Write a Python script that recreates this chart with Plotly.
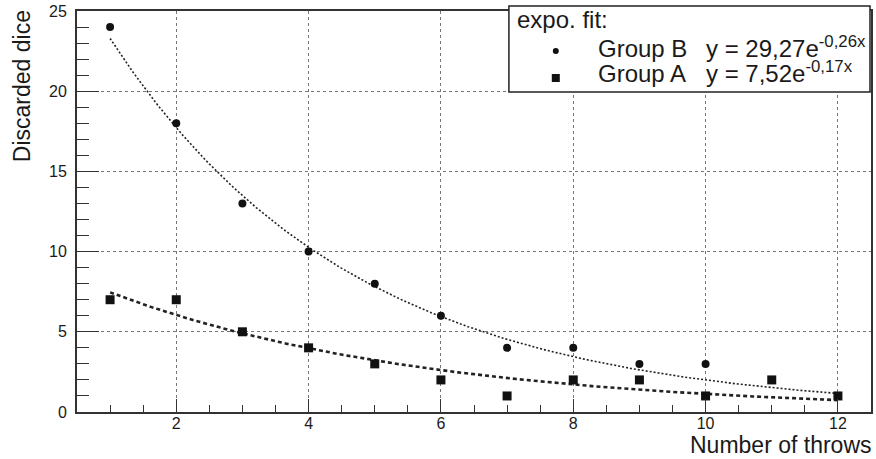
import numpy as np
import plotly.graph_objects as go

# ---- data ----
throws_b = [1, 2, 3, 4, 5, 6, 7, 8, 9, 10, 12]
dice_b = [24, 18, 13, 10, 8, 6, 4, 4, 3, 3, 1]
throws_a = [1, 2, 3, 4, 5, 6, 7, 8, 9, 10, 11, 12]
dice_a = [7, 7, 5, 4, 3, 2, 1, 2, 2, 1, 2, 1]

# fit curves as drawn in the picture (amplitude, decay)
fit_b_drawn = (30.6, 0.273)
fit_a_drawn = (9.2, 0.21)
fit_range = (1, 12)

legend_title = "expo. fit:"
legend_names = ["Group B", "Group A"]
legend_formulas = ["y = 29,27e<sup>-0,26x</sup>", "y = 7,52e<sup>-0,17x</sup>"]

x_title = "Number of throws"
y_title = "Discarded dice"

# ---- layout geometry (pixels) ----
W, H = 876, 459
L, R, T, B = 77, 873, 11, 412


def px(xp):
    return (xp - L) / (R - L)


def py(yp):
    return (B - yp) / (B - T)


FONT = "Liberation Sans, Arial, Helvetica, sans-serif"
INK = "#1a1a1a"

xf = np.linspace(fit_range[0], fit_range[1], 300)

fig = go.Figure()
fig.add_trace(go.Scatter(x=xf, y=fit_b_drawn[0] * np.exp(-fit_b_drawn[1] * xf), mode="lines",
                         line=dict(color="#222", width=1.6, dash="2px,2px"),
                         showlegend=False, hoverinfo="skip"))
fig.add_trace(go.Scatter(x=xf, y=fit_a_drawn[0] * np.exp(-fit_a_drawn[1] * xf), mode="lines",
                         line=dict(color="#222", width=2.6, dash="4px,3px"),
                         showlegend=False, hoverinfo="skip"))
fig.add_trace(go.Scatter(x=throws_b, y=dice_b, mode="markers", name=legend_names[0],
                         marker=dict(symbol="circle", size=8, color="#111"),
                         showlegend=False))
fig.add_trace(go.Scatter(x=throws_a, y=dice_a, mode="markers", name=legend_names[1],
                         marker=dict(symbol="square", size=9, color="#111"),
                         showlegend=False))

axis_common = dict(
    showline=True, linecolor="#333", linewidth=1.8, mirror=True,
    showgrid=True, gridcolor="#777", gridwidth=1, griddash="dot",
    zeroline=False, ticks="inside", tickcolor="#333", tickwidth=1.3,
    tickfont=dict(family=FONT, size=16, color=INK),
)

fig.update_xaxes(range=[0.5, 12.5], tick0=0, dtick=2, ticklen=13, ticklabelstandoff=-4,
                 minor=dict(dtick=0.5, ticks="inside", ticklen=7, tickcolor="#333",
                            showgrid=False),
                 **axis_common)
fig.update_yaxes(range=[0, 25], tick0=0, dtick=5, ticklen=22, ticklabelstandoff=5,
                 minor=dict(dtick=1, ticks="inside", ticklen=12, tickcolor="#333",
                            showgrid=False),
                 **axis_common)

shapes = [
    dict(type="rect", xref="paper", yref="paper",
         x0=px(510), x1=px(872), y0=py(92), y1=py(6),
         fillcolor="white", line=dict(color="#222", width=1.5), layer="above"),
    dict(type="circle", xref="paper", yref="paper", xsizemode="pixel", ysizemode="pixel",
         xanchor=px(557), yanchor=py(51), x0=-3, x1=3, y0=-3, y1=3,
         fillcolor="#111", line=dict(width=0), layer="above"),
    dict(type="rect", xref="paper", yref="paper", xsizemode="pixel", ysizemode="pixel",
         xanchor=px(557), yanchor=py(78), x0=-4, x1=4, y0=-4, y1=4,
         fillcolor="#111", line=dict(width=0), layer="above"),
]

leg_font = dict(family=FONT, size=24, color=INK)
ttl_font = dict(family=FONT, size=23, color=INK)
D = 5  # descent offset from baseline to text box bottom (px)
annotations = [
    dict(text=legend_title, x=px(518), y=py(27.5 + D), xanchor="left", yanchor="bottom", font=leg_font),
    dict(text=legend_names[0], x=px(599), y=py(57 + D), xanchor="left", yanchor="bottom", font=leg_font),
    dict(text=legend_names[1], x=px(599), y=py(82 + D), xanchor="left", yanchor="bottom", font=leg_font),
    dict(text=legend_formulas[0], x=px(708), y=py(57 + D), xanchor="left", yanchor="bottom", font=leg_font),
    dict(text=legend_formulas[1], x=px(708), y=py(82 + D), xanchor="left", yanchor="bottom", font=leg_font),
    dict(text=x_title, x=px(874), y=py(453 + D), xanchor="right", yanchor="bottom", font=ttl_font),
    dict(text=y_title, x=px(22), y=py(10), xanchor="center", yanchor="top", textangle=-90, font=ttl_font),
]
for a in annotations:
    a.update(xref="paper", yref="paper", showarrow=False, borderpad=0, borderwidth=0)

fig.update_layout(
    width=W, height=H,
    margin=dict(l=L, r=W - R, t=T, b=H - B),
    paper_bgcolor="white", plot_bgcolor="white",
    shapes=shapes, annotations=annotations,
    showlegend=False,
    font=dict(family=FONT, color=INK),
)

fig.write_html("out.html")
